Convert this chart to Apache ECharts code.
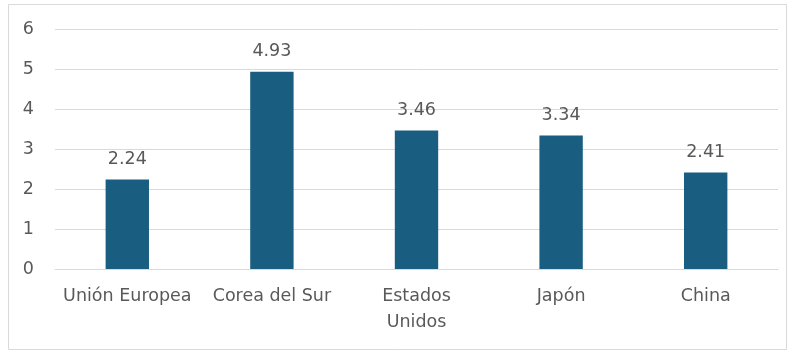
<!DOCTYPE html>
<html><head><meta charset="utf-8">
<script src="https://cdn.jsdelivr.net/npm/echarts@6/dist/echarts.min.js"></script>
<style>html,body{margin:0;padding:0;background:#fff}#c{width:796px;height:352px}</style>
</head><body><div id="c"></div>
<script>
const categories = ['Unión Europea', 'Corea del Sur', 'Estados Unidos', 'Japón', 'China'];
const values = [2.24, 4.93, 3.46, 3.34, 2.41];
const yTicks = [0, 1, 2, 3, 4, 5, 6];

const chart = echarts.init(document.getElementById('c'), null, {renderer: 'canvas'});
const font = 'DejaVu Sans, sans-serif';
chart.setOption({
  animation: false,
  graphic: [{type: 'rect', shape: {x: 8.5, y: 4.5, width: 778, height: 345}, style: {fill: 'none', stroke: '#d9d9d9', lineWidth: 1}, silent: true}],
  grid: {left: 55, right: 18, top: 29, bottom: 83},
  xAxis: {
    type: 'category', data: categories,
    axisLine: {lineStyle: {color: '#d9d9d9'}}, axisTick: {show: false},
    axisLabel: {color: '#595959', fontSize: 17.5, fontFamily: font, margin: 14, lineHeight: 26,
      interval: 0, formatter: v => v === 'Estados Unidos' ? 'Estados\nUnidos' : v}
  },
  yAxis: {
    type: 'value', min: yTicks[0], max: yTicks[yTicks.length - 1], interval: 1,
    axisLine: {show: false}, axisTick: {show: false},
    splitLine: {lineStyle: {color: '#d9d9d9'}},
    axisLabel: {color: '#595959', fontSize: 17.5, fontFamily: font, margin: 21}
  },
  series: [{
    type: 'bar', data: values, barWidth: '30%',
    itemStyle: {color: '#195e80'},
    label: {show: true, position: 'top', distance: 11, color: '#595959', fontSize: 17.5, fontFamily: font,
      formatter: p => p.value.toFixed(2)}
  }]
});
</script></body></html>
